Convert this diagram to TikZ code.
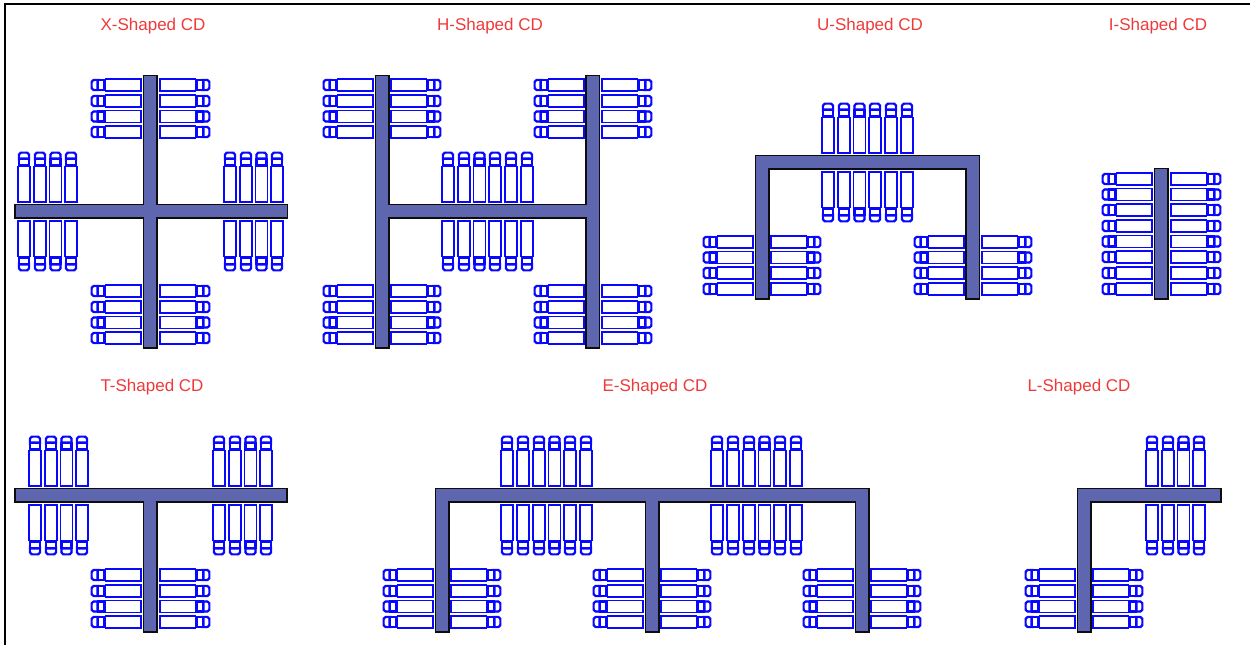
\documentclass[tikz,border=0pt]{standalone}
\usepackage{fontspec}
\setmainfont{Liberation Sans}
\definecolor{bar}{HTML}{5D66AE}
\definecolor{title}{HTML}{F03A3A}
\definecolor{truck}{HTML}{0808FF}
\tikzset{
  x=1pt,y=-1pt,
  barshape/.style={draw=black!95,line width=1.35pt,fill=bar},
  cdtitle/.style={text=title,font=\fontsize{17}{19}\selectfont,anchor=center,inner sep=0pt},
  truckline/.style={draw=truck,line width=1.35pt,fill=white},
  pics/lorry/.style={code={
    \path[truckline,fill=truck,line width=1.2pt] (42,-5.6) -- (47.5,-5.6) -- (49.8,-3.6) -- (49.8,3.6) -- (47.5,5.6) -- (42,5.6) -- cycle;
    \path[fill=white] (44.6,-3.9) -- (46.4,-3.9) to[out=0,in=90] (48.4,-1.2) -- (48.4,1.2) to[out=-90,in=0] (46.4,3.9) -- (44.6,3.9) -- cycle;
    \path[draw=truck,fill=white,line width=2.4pt] (36.5,-5) rectangle (43,5);
    \path[truckline] (0,-6) rectangle (35.5,6);
  }}
}
% one row of trucks on each side of a spine: x of inner-left end, x of inner-right end, y list
\newcommand{\rowsLR}[3]{\foreach \yy in {#3}{
  \pic[rotate=180] at (#1,\yy) {lorry};
  \pic at (#2,\yy) {lorry};}}
% trucks above and below a beam: x list, y of upper inner end, y of lower inner end
\newcommand{\colsUD}[3]{\foreach \xx in {#1}{
  \pic[rotate=90] at (\xx,#2) {lorry};
  \pic[rotate=-90] at (\xx,#3) {lorry};}}
\begin{document}
\begin{tikzpicture}
\useasboundingbox (0,0) rectangle (1250,645);
\fill[white] (0,0) rectangle (1250,645);
\draw[black,line width=2pt] (5,645) -- (5,4) -- (1250,4);

% titles
\node[cdtitle] (tx) at (153,26) {X-Shaped CD};
\node[cdtitle] (th) at (490,26) {H-Shaped CD};
\node[cdtitle] (tu) at (870,26) {U-Shaped CD};
\node[cdtitle] (ti) at (1158,26) {I-Shaped CD};
\node[cdtitle] (tt) at (152,387) {T-Shaped CD};
\node[cdtitle] (te) at (655,387) {E-Shaped CD};
\node[cdtitle] (tl) at (1079,387) {L-Shaped CD};

% X
\path[barshape] (143.5,75.5) -- (157,75.5) -- (157,204.5) -- (287.5,204.5) -- (287.5,218) -- (157,218) -- (157,348) -- (143.5,348) -- (143.5,218) -- (15,218) -- (15,204.5) -- (143.5,204.5) -- cycle;
\rowsLR{141}{160}{85,101,116.5,132,291,307,322.5,338}
\colsUD{24,40,55.5,71,230,246,261.5,277}{202}{221}

% H
\path[barshape] (375.5,75.5) -- (389,75.5) -- (389,204.5) -- (586,204.5) -- (586,75.5) -- (599.5,75.5) -- (599.5,348) -- (586,348) -- (586,218) -- (389,218) -- (389,348) -- (375.5,348) -- cycle;
\rowsLR{373}{391}{85,101,116.5,132,291,307,322.5,338}
\rowsLR{584}{602}{85,101,116.5,132,291,307,322.5,338}
\colsUD{448,464,479.5,495,511,527}{202}{221}

% U
\path[barshape] (755.5,155.5) -- (979.5,155.5) -- (979.5,299) -- (966,299) -- (966,169) -- (769,169) -- (769,299) -- (755.5,299) -- cycle;
\colsUD{828,844,859.5,875,891,907}{153}{172}
\rowsLR{753}{771}{242,257.5,273,289}
\rowsLR{964}{982}{242,257.5,273,289}

% I
\path[barshape] (1154.5,168.5) rectangle (1168,299);
\rowsLR{1152}{1171}{179,194.5,210,226,241.5,257,273,289}

% T
\path[barshape] (15,488.5) -- (287,488.5) -- (287,502) -- (157,502) -- (157,632) -- (143.5,632) -- (143.5,502) -- (15,502) -- cycle;
\colsUD{35,51,66.5,82,219,235,250.5,266}{486}{505}
\rowsLR{141}{160}{575,591,606.5,622}

% E
\path[barshape] (435.5,488.5) -- (869,488.5) -- (869,632) -- (855.5,632) -- (855.5,502) -- (659,502) -- (659,632) -- (645.5,632) -- (645.5,502) -- (449,502) -- (449,632) -- (435.5,632) -- cycle;
\colsUD{507,523,539,554.5,570,586,717,733,749,764.5,780,796}{486}{505}
\rowsLR{433}{451}{575,591,606.5,622}
\rowsLR{643}{661}{575,591,606.5,622}
\rowsLR{853}{871}{575,591,606.5,622}

% L
\path[barshape] (1077.5,488.5) -- (1221,488.5) -- (1221,502) -- (1091,502) -- (1091,632) -- (1077.5,632) -- cycle;
\colsUD{1152,1168,1183.5,1199}{486}{505}
\rowsLR{1075}{1093}{575,591,606.5,622}
\end{tikzpicture}
\end{document}
